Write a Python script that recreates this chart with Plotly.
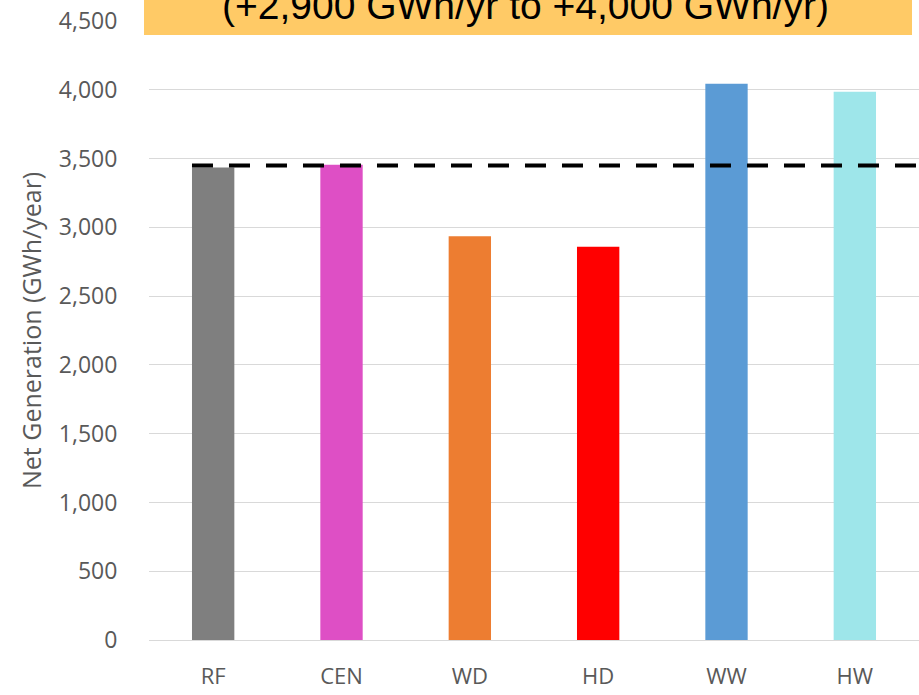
import plotly.graph_objects as go

# Net generation by scenario
scenarios = ["RF", "CEN", "WD", "HD", "WW", "HW"]
net_generation = [3435, 3455, 2936, 2858, 4044, 3985]
bar_colors = ["#7f7f7f", "#de4fc5", "#ed7d31", "#ff0000", "#5b9bd5", "#9ee6ea"]

reference_level = 3450
range_note = "(+2,900 GWh/yr to +4,000 GWh/yr)"
y_ticks = [0, 500, 1000, 1500, 2000, 2500, 3000, 3500, 4000, 4500]

W, H = 919, 695
L, R, T, B = 149, 0, 21, 55
pw, ph = W - L - R, H - T - B


def px_x(x):
    return (x - L) / pw


def px_y(y):
    return (H - B - y) / ph


fig = go.Figure(
    go.Bar(
        x=scenarios,
        y=net_generation,
        marker=dict(color=bar_colors, line=dict(width=0)),
        width=0.33,
        hoverinfo="x+y",
    )
)

tick_font = dict(family="Open Sans, Noto Sans, sans-serif", size=23, color="#595959")

fig.update_layout(
    width=W,
    height=H,
    margin=dict(l=L, r=R, t=T, b=B, pad=0, autoexpand=False),
    paper_bgcolor="white",
    plot_bgcolor="white",
    showlegend=False,
    xaxis=dict(
        range=[-0.5, 5.5],
        automargin=False,
        showgrid=False,
        showline=False,
        zeroline=False,
        ticks="outside",
        ticklen=17,
        tickcolor="rgba(0,0,0,0)",
        tickfont=dict(tick_font, size=22),
    ),
    yaxis=dict(
        range=[0, 4500],
        automargin=False,
        tickvals=y_ticks,
        ticktext=[f"{v:,}" for v in y_ticks],
        showgrid=True,
        gridcolor="#d9d9d9",
        gridwidth=1,
        zeroline=True,
        zerolinecolor="#d9d9d9",
        zerolinewidth=1,
        showline=False,
        ticks="outside",
        ticklen=26,
        tickcolor="rgba(0,0,0,0)",
        tickfont=tick_font,
    ),
)

# Reference level (dashed) starting at the first bar's left edge
fig.add_shape(
    type="line",
    xref="x", yref="y",
    x0=-0.165, x1=5.5,
    y0=reference_level, y1=reference_level,
    line=dict(color="black", width=4, dash="21px,16px"),
    layer="above",
)

# Highlight box carrying the range note
fig.add_shape(
    type="rect",
    xref="paper", yref="paper",
    x0=px_x(144), x1=px_x(912),
    y0=px_y(35), y1=px_y(-5),
    fillcolor="#ffca66",
    line=dict(width=0),
    layer="above",
)
fig.add_annotation(
    xref="paper", yref="paper",
    x=px_x(525), y=px_y(29),
    xanchor="center", yanchor="bottom",
    text=range_note,
    showarrow=False,
    font=dict(family="Liberation Sans, Arial, sans-serif", size=39, color="black"),
)

# Y-axis title
fig.add_annotation(
    xref="paper", yref="paper",
    x=px_x(31), y=px_y(331),
    xanchor="center", yanchor="middle",
    text="Net Generation (GWh/year)",
    textangle=-90,
    showarrow=False,
    font=dict(family="Open Sans, Noto Sans, sans-serif", size=25, color="#595959"),
)

fig.write_html("out.html")
